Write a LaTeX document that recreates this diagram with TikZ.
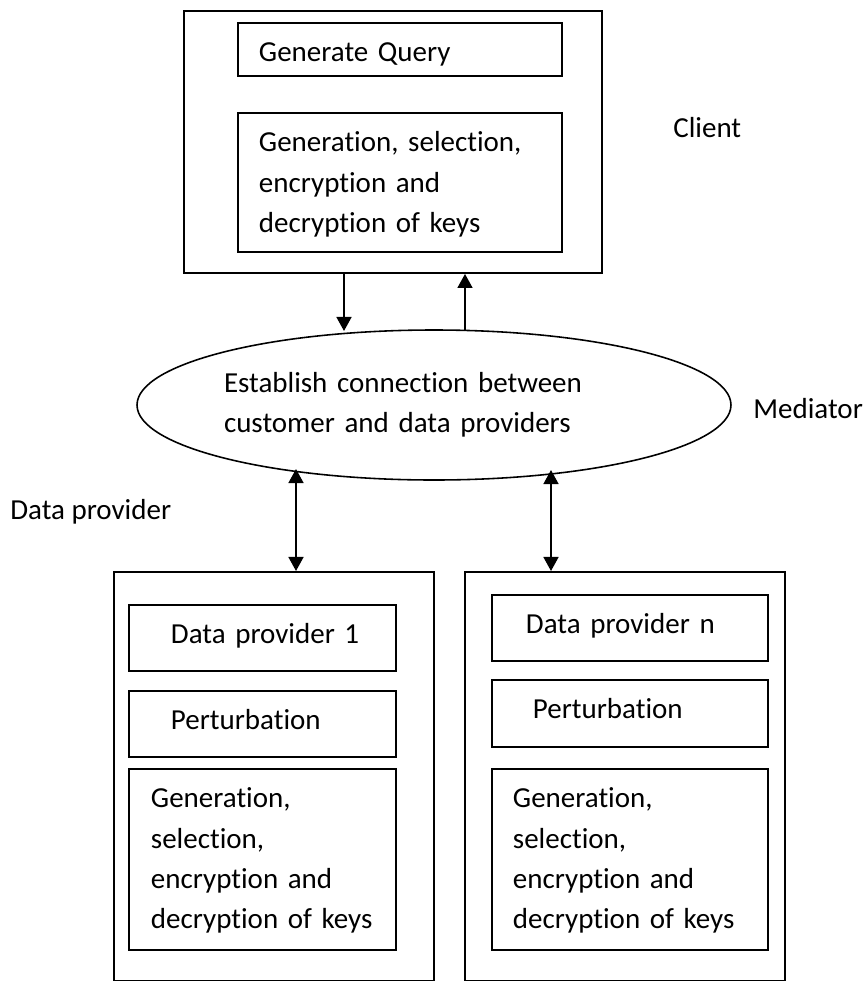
\documentclass[tikz,border=0pt]{standalone}
\usepackage{fontspec}
\setmainfont{Carlito}[Ligatures=NoCommon]
\usetikzlibrary{shapes.geometric,arrows.meta}
\tikzset{
  every node/.style={font=\fontsize{16.5pt}{22.8pt}\selectfont},
  frame/.style={draw,line width=1.1pt,anchor=north west,inner sep=0pt},
  pbox/.style n args={3}{draw,line width=1.1pt,anchor=north west,inner sep=0pt,align=left,
    text width={#1*0.02cm},text height={39*0.02cm},text depth={(#2-39)*0.02cm},
    execute at begin node={\pgfmathsetlength{\leftskip}{#3*0.02cm}}},
  lbl/.style={anchor=base west,inner sep=0pt},
  arr/.style={line width=1.1pt,-{Triangle[width=8.5pt,length=8pt]}},
  darr/.style={line width=1.1pt,{Triangle[width=8.5pt,length=8pt]}-{Triangle[width=8.5pt,length=8pt]}}
}
\begin{document}
\begin{tikzpicture}[x=0.02cm,y=-0.02cm]
\useasboundingbox (0,0) rectangle (868,981);
\pgfmathsetmacro{\ktop}{571}
\pgfmathsetmacro{\kht}{409}
% client
\node[frame,minimum width=418*0.02cm,minimum height=262*0.02cm](client) at (183,10){};
\node[pbox={324}{53}{21}](query) at (237,22){Generate Query};
\node[pbox={324}{139}{21}](ckeys) at (237,112){Generation, selection,\\encryption and\\decryption of keys};
\node[lbl](clientlbl) at (673,137){Client};
% mediator
\node[ellipse,draw,line width=0.9pt,minimum width=578*0.02cm,minimum height=150*0.02cm,
  inner sep=0pt,align=center,text width=420*0.02cm,
  execute at begin node={\rightskip=0.72cm plus 1fil}](med) at (434,405)
  {Establish connection between\\customer and data providers};
\node[lbl](medlbl) at (753,418){Mediator};
\node[lbl](dplbl) at (10,519){Data provider};
% data providers
\node[frame,minimum width=320*0.02cm,minimum height=\kht*0.02cm](dpone) at (113,\ktop){};
\node[pbox={267}{66}{42}](dpname1) at (128,604){Data provider 1};
\node[pbox={267}{66}{42}](pert1) at (128,690){Perturbation};
\node[pbox={267}{181}{22}](keys1) at (128,768){Generation,\\selection,\\encryption and\\decryption of keys};
\node[frame,minimum width=320*0.02cm,minimum height=\kht*0.02cm](dpn) at (464,\ktop){};
\node[pbox={276}{66}{34}](dpnamen) at (491,594){Data provider n};
\node[pbox={276}{67}{41}](pertn) at (491,679){Perturbation};
\node[pbox={276}{181}{21}](keysn) at (491,768){Generation,\\selection,\\encryption and\\decryption of keys};
% connectors
\coordinate (qdown) at (344,331);
\coordinate (qup) at (465,331);
\coordinate (lk) at (296,469);
\coordinate (rk) at (551,470);
\draw[arr](client.south -| qdown)--(qdown);
\draw[arr](qup)--(client.south -| qup);
\foreach \p/\b in {lk/dpone,rk/dpn}{\draw[darr](\p)--(\b.north -| \p);}
\end{tikzpicture}
\end{document}
